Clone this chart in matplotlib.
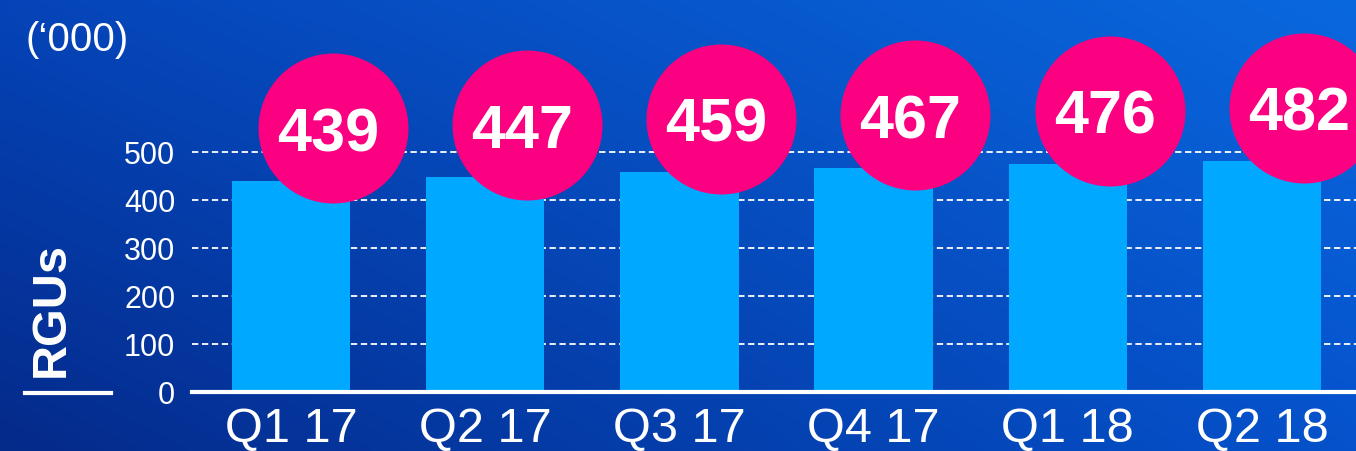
import numpy as np
import matplotlib
matplotlib.use('Agg')
import matplotlib.pyplot as plt

quarters = ['Q1 17', 'Q2 17', 'Q3 17', 'Q4 17', 'Q1 18', 'Q2 18']
rgus = [439, 447, 459, 467, 476, 482]
yticks = [0, 100, 200, 300, 400, 500]

plt.rcParams['font.family'] = ['Liberation Sans', 'DejaVu Sans']

W, H = 1356, 452
fig = plt.figure(figsize=(W / 100, H / 100), dpi=100)

# background gradient
bg = fig.add_axes([0, 0, 1, 1])
bg.axis('off')
tl = np.array([0x05, 0x44, 0xb8]) / 255
tr = np.array([0x0a, 0x68, 0xde]) / 255
bl = np.array([0x04, 0x2a, 0x8a]) / 255
br = np.array([0x05, 0x52, 0xcc]) / 255
u = np.linspace(0, 1, 200)[None, :, None]
v = np.linspace(0, 1, 80)[:, None, None]
img = (1 - v) * ((1 - u) * tl + u * tr) + v * ((1 - u) * bl + u * br)
bg.imshow(img, extent=[0, 1, 0, 1], aspect='auto', interpolation='bilinear')
bg.set_xlim(0, 1)
bg.set_ylim(0, 1)

ax = fig.add_axes([192 / W, 59 / H, 1164 / W, 393 / H])
ax.patch.set_alpha(0)
x = np.arange(len(quarters))
vals = np.array(rgus)

ax.bar(x, vals, width=0.61, color='#00a8ff', zorder=2)
ax.scatter(x + 0.215, vals + 110, s=11664, color='#fb0080', linewidths=0,
           zorder=3, clip_on=False)
for xi, vi in zip(x, vals):
    ax.text(xi + 0.19, vi + 110, str(vi), ha='center', va='center_baseline',
            color='white', fontsize=44, fontweight='bold', zorder=4)

ax.set_xlim(-0.51, 5.484)
ax.set_ylim(0, 818.75)
ax.set_yticks(yticks)
ax.set_xticks(x)
ax.set_xticklabels(quarters)
ax.yaxis.grid(True, color='white', linestyle=(0, (3.5, 2)), linewidth=1.3, zorder=1)
ax.set_axisbelow(True)
for s in ['top', 'right', 'left']:
    ax.spines[s].set_visible(False)
ax.spines['bottom'].set_color('white')
ax.spines['bottom'].set_linewidth(3)
ax.spines['bottom'].set_zorder(5)
ax.tick_params(axis='y', length=0, labelsize=22, labelcolor='white', pad=12)
ax.tick_params(axis='x', length=0, labelsize=35, labelcolor='white', pad=10)

fig.text(25 / W, 1 - 40 / H, "(\u2018000)", color='white', fontsize=29,
         ha='left', va='center')
fig.text(51 / W, 1 - 310 / H, 'RGUs', color='white', fontsize=35,
         fontweight='bold', rotation=90, ha='center', va='center')
fig.add_artist(plt.Line2D([25 / W, 111 / W], [1 - 394 / H, 1 - 394 / H],
                          color='white', linewidth=3, transform=fig.transFigure))

fig.savefig('out.png', dpi=100)
